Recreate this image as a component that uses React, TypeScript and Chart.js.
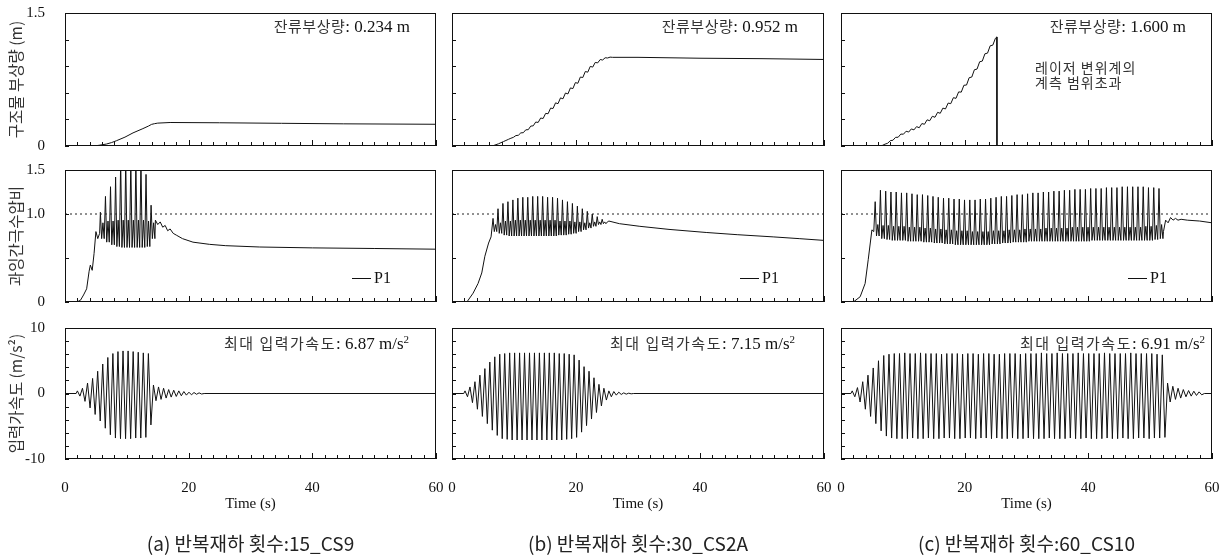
import React, { useEffect, useRef } from 'react';
import { Chart, registerables } from 'chart.js';

Chart.register(...registerables);

// ---------------- axis ticks and labels ----------------
const X_TICKS = [0, 2, 4, 6, 8, 10, 12, 14, 16, 18, 20, 22, 24, 26, 28, 30, 32, 34, 36, 38, 40, 42, 44, 46, 48, 50, 52, 54, 56, 58, 60];
const X_TICK_LABELS = [0, 20, 40, 60];
const UPLIFT_TICKS = [0, 0.3, 0.6, 0.9, 1.2, 1.5];
const UPLIFT_LABELED = [0, 1.5];
const UPLIFT_LABEL_TEXT = ['0', '1.5'];
const PP_TICKS = [0, 0.5, 1.0, 1.5];
const PP_LABELED = [0, 1.0, 1.5];
const PP_LABEL_TEXT = ['0', '1.0', '1.5'];
const ACC_TICKS = [-10, -8, -6, -4, -2, 0, 2, 4, 6, 8, 10];
const ACC_LABELED = [-10, 0, 10];
const ACC_LABEL_TEXT = ['-10', '0', '10'];

const Y_TITLES = ['구조물 부상량 (m)', '과잉간극수압비', '입력가속도 (m/s²)'];
const X_TITLE = 'Time (s)';
const CAPTIONS = ['(a) 반복재하 횟수:15_CS9', '(b) 반복재하 횟수:30_CS2A', '(c) 반복재하 횟수:60_CS10'];
const RESIDUAL_LABEL = '잔류부상량';
const RESIDUAL_UPLIFT = ['0.234', '0.952', '1.600'];
const MAX_ACC_LABEL = '최대 입력가속도';
const MAX_ACCEL = ['6.87', '7.15', '6.91'];
const LASER_NOTE = ['레이저 변위계의', '계측 범위초과'];
const LEGEND_LABEL = 'P1';
const DOTTED_T = [0, 60];
const DOTTED_V = [1.0, 1.0];

// ---------------- row 1 : uplift (m) ----------------
const UPLIFT_A_T = [0, 4.6, 5.5, 6.7, 7.5, 8.3, 9.7, 11.0, 12.6, 13.5, 14.0, 14.5, 15.0, 17.0, 25, 35, 45, 60];
const UPLIFT_A_V = [0, 0, 0.008, 0.022, 0.038, 0.059, 0.1, 0.148, 0.196, 0.225, 0.244, 0.252, 0.258, 0.265, 0.262, 0.256, 0.25, 0.245];

const UPLIFT_B_START = 1.9;
const UPLIFT_B_PERIOD = 0.8;
const UPLIFT_B_LEVEL = [0, 0, 0, 0, 0, 0, 0.005, 0.025, 0.05, 0.075, 0.1, 0.125, 0.155, 0.19, 0.235, 0.275, 0.32, 0.375, 0.435, 0.49, 0.545, 0.6, 0.66, 0.72, 0.785, 0.845, 0.9, 0.945, 0.975, 0.995];
const UPLIFT_B_WIGGLE = [0, 0, 0, 0, 0, 0, 0, 0, 0, 0, 0.005, 0.008, 0.01, 0.012, 0.015, 0.018, 0.02, 0.022, 0.024, 0.025, 0.025, 0.025, 0.025, 0.025, 0.025, 0.025, 0.02, 0.015, 0.01, 0.005];
const UPLIFT_B_TAIL_T = [25.9, 30, 40, 50, 60];
const UPLIFT_B_TAIL_V = [1.0, 1.0, 0.99, 0.985, 0.976];

const UPLIFT_C_START = 1.6;
const UPLIFT_C_PERIOD = 0.85;
const UPLIFT_C_LEVEL = [0, 0, 0, 0, 0, 0, 0.007, 0.035, 0.07, 0.105, 0.14, 0.165, 0.19, 0.215, 0.255, 0.295, 0.335, 0.38, 0.43, 0.49, 0.55, 0.62, 0.7, 0.79, 0.88, 0.97, 1.06, 1.15];
const UPLIFT_C_WIGGLE = [0, 0, 0, 0, 0, 0, 0, 0.008, 0.01, 0.012, 0.014, 0.015, 0.016, 0.018, 0.02, 0.02, 0.022, 0.022, 0.024, 0.025, 0.025, 0.025, 0.025, 0.025, 0.025, 0.025, 0.025, 0.025];
const UPLIFT_C_TAIL_T = [25.2, 25.22, 60];
const UPLIFT_C_TAIL_V = [1.23, 0, 0];

// ---------------- row 2 : excess pore pressure ratio ----------------
const PP_A_RISE_T = [0, 1.9, 2.5, 3.0, 3.5, 3.9, 4.1, 4.4, 4.7, 5.0, 5.3, 5.6];
const PP_A_RISE_V = [0, 0, 0.02, 0.08, 0.15, 0.35, 0.42, 0.36, 0.55, 0.8, 0.72, 0.78];
const PP_A_START = 5.6;
const PP_A_PERIOD = 0.82;
const PP_A_HIGH = [1.02, 1.2, 1.31, 1.42, 1.6, 1.6, 1.6, 1.6, 1.6, 1.45, 1.1];
const PP_A_LOW = [0.72, 0.68, 0.65, 0.63, 0.62, 0.62, 0.62, 0.62, 0.62, 0.63, 0.72];
const PP_A_MID = [0.9, 0.92, 0.92, 0.93, 0.93, 0.93, 0.93, 0.93, 0.93, 0.92, 0.9];
const PP_A_DECAY_T = [14.62, 15.0, 15.4, 15.8, 16.2, 16.6, 17.0, 17.5, 18.0, 19.0, 20.7, 23.4, 26.0, 31.5, 40, 50, 60];
const PP_A_DECAY_V = [0.93, 0.88, 0.91, 0.85, 0.87, 0.81, 0.83, 0.78, 0.76, 0.72, 0.68, 0.655, 0.64, 0.625, 0.615, 0.608, 0.6];

const PP_B_RISE_T = [0, 2.4, 3.4, 4.2, 4.8, 5.3, 5.9, 6.3];
const PP_B_RISE_V = [0, 0, 0.1, 0.21, 0.33, 0.52, 0.67, 0.74];
const PP_B_START = 6.5;
const PP_B_PERIOD = 0.8;
const PP_B_HIGH = [0.95, 1.06, 1.12, 1.14, 1.16, 1.18, 1.19, 1.19, 1.2, 1.2, 1.2, 1.19, 1.19, 1.18, 1.16, 1.14, 1.12, 1.09, 1.06, 1.03, 1.0, 0.97, 0.94];
const PP_B_LOW = [0.8, 0.78, 0.76, 0.75, 0.75, 0.75, 0.75, 0.75, 0.75, 0.75, 0.75, 0.75, 0.75, 0.76, 0.76, 0.77, 0.78, 0.8, 0.82, 0.84, 0.86, 0.88, 0.89];
const PP_B_MID = [0.88, 0.9, 0.92, 0.92, 0.93, 0.93, 0.93, 0.93, 0.93, 0.93, 0.93, 0.93, 0.93, 0.92, 0.92, 0.92, 0.91, 0.91, 0.9, 0.9, 0.91, 0.91, 0.91];
const PP_B_DECAY_T = [24.9, 25.3, 27, 30.3, 35, 41, 46, 51.8, 56, 60];
const PP_B_DECAY_V = [0.9, 0.92, 0.89, 0.86, 0.825, 0.79, 0.765, 0.74, 0.72, 0.7];

const PP_C_RISE_T = [0, 2.0, 3.1, 3.9, 4.4, 5.0, 5.3];
const PP_C_RISE_V = [0, 0, 0.06, 0.21, 0.48, 0.82, 0.8];
const PP_C_START = 5.4;
const PP_C_PERIOD = 0.85;
const PP_C_HIGH = [
  1.14, 1.27, 1.26, 1.25, 1.25, 1.24, 1.24, 1.23, 1.22, 1.22,
  1.21, 1.2, 1.19, 1.18, 1.18, 1.17, 1.17, 1.16, 1.16, 1.16,
  1.17, 1.17, 1.18, 1.19, 1.2, 1.2, 1.21, 1.22, 1.22, 1.23,
  1.24, 1.24, 1.25, 1.25, 1.26, 1.26, 1.27, 1.27, 1.28, 1.28,
  1.28, 1.29, 1.29, 1.29, 1.3, 1.3, 1.3, 1.31, 1.31, 1.31,
  1.31, 1.31, 1.3, 1.3, 1.29,
];
const PP_C_LOW = [
  0.75, 0.72, 0.71, 0.7, 0.7, 0.7, 0.69, 0.69, 0.69, 0.68,
  0.68, 0.67, 0.67, 0.66, 0.66, 0.65, 0.65, 0.65, 0.65, 0.65,
  0.65, 0.65, 0.66, 0.66, 0.67, 0.67, 0.68, 0.68, 0.68, 0.69,
  0.69, 0.69, 0.69, 0.69, 0.69, 0.69, 0.69, 0.69, 0.69, 0.69,
  0.69, 0.7, 0.7, 0.7, 0.7, 0.7, 0.7, 0.7, 0.7, 0.7,
  0.7, 0.7, 0.7, 0.71, 0.72,
];
const PP_C_MID = [
  0.88, 0.87, 0.87, 0.86, 0.86, 0.86, 0.85, 0.85, 0.85, 0.84,
  0.84, 0.83, 0.83, 0.82, 0.82, 0.81, 0.81, 0.81, 0.8, 0.8,
  0.8, 0.8, 0.81, 0.81, 0.81, 0.82, 0.82, 0.82, 0.83, 0.83,
  0.83, 0.83, 0.84, 0.84, 0.84, 0.84, 0.84, 0.85, 0.85, 0.85,
  0.85, 0.85, 0.85, 0.85, 0.85, 0.85, 0.85, 0.85, 0.85, 0.85,
  0.85, 0.86, 0.86, 0.87, 0.88,
];
const PP_C_DECAY_T = [52.15, 52.5, 52.9, 53.3, 53.7, 54.1, 54.5, 55, 56, 58, 60];
const PP_C_DECAY_V = [0.8, 0.93, 0.9, 0.96, 0.93, 0.95, 0.93, 0.94, 0.93, 0.92, 0.9];

// ---------------- row 3 : input acceleration (m/s2), peak per loading cycle ----------------
const ACC_A_START = 1.8;
const ACC_A_PERIOD = 0.82;
const ACC_A_POS = [0.4, 0.8, 1.6, 2.3, 3.4, 4.5, 5.5, 6.1, 6.4, 6.5, 6.5, 6.4, 6.3, 6.2, 6.1];
const ACC_A_NEG = [-0.4, -1.2, -2.2, -3.2, -4.2, -5.3, -6.3, -6.8, -6.9, -6.9, -6.9, -6.8, -6.8, -6.7, -4.8];
const ACC_A_RING = [1.3, -1.1, 1.0, -0.9, 0.8, -0.7, 0.6, -0.55, 0.5, -0.45, 0.4, -0.35, 0.3, -0.25, 0.2, -0.2, 0.15, -0.12, 0.1, -0.08];

const ACC_B_START = 1.9;
const ACC_B_PERIOD = 0.8;
const ACC_B_POS = [0.4, 1.0, 1.8, 2.8, 3.8, 4.8, 5.6, 6.0, 6.1, 6.2, 6.2, 6.2, 6.2, 6.2, 6.2, 6.2, 6.2, 6.2, 6.2, 6.1, 6.1, 6.0, 5.9, 5.1, 4.1, 3.4, 2.4, 1.4, 0.8, 0.4];
const ACC_B_NEG = [-0.5, -1.4, -2.4, -3.5, -4.6, -5.6, -6.4, -6.9, -7.0, -7.1, -7.1, -7.1, -7.1, -7.1, -7.1, -7.1, -7.1, -7.1, -7.1, -7.1, -7.0, -6.9, -6.7, -5.9, -4.9, -3.9, -2.9, -1.9, -1.0, -0.5];
const ACC_B_RING = [0.3, -0.25, 0.2, -0.15, 0.1, -0.1, 0.05, -0.05];

const ACC_C_START = 1.6;
const ACC_C_PERIOD = 0.85;
const ACC_C_POS = [
  0.4, 0.9, 1.8, 2.8, 3.9, 5.0, 5.8,
  6.0, 6.1, 6.1, 6.2, 6.1, 6.1, 6.2, 6.1, 6.1, 6.1,
  6.0, 6.1, 6.1, 6.1, 6.0, 6.1, 6.1, 6.0, 6.1, 6.1,
  6.0, 6.0, 6.1, 6.1, 6.1, 6.0, 6.1, 6.1, 6.1, 6.2,
  6.1, 6.1, 6.2, 6.1, 6.1, 6.1, 6.2, 6.1, 6.1, 6.1,
  6.1, 6.2, 6.1, 6.1, 6.1, 6.1, 6.2, 6.1, 6.1, 6.1,
  6.1, 6.0, 5.9,
];
const ACC_C_NEG = [
  -0.5, -1.3, -2.4, -3.5, -4.6, -5.7, -6.5,
  -6.8, -6.9, -6.9, -6.9, -6.8, -6.9, -6.9, -6.8, -6.9, -6.9,
  -6.8, -6.8, -6.9, -6.9, -6.8, -6.8, -6.9, -6.8, -6.8, -6.9,
  -6.8, -6.9, -6.9, -6.8, -6.9, -6.9, -6.8, -6.9, -6.9, -6.9,
  -6.8, -6.9, -6.9, -6.9, -6.8, -6.9, -6.9, -6.8, -6.9, -6.9,
  -6.9, -6.8, -6.9, -6.9, -6.8, -6.9, -6.9, -6.8, -6.8, -6.9,
  -6.8, -6.8, -6.7,
];
const ACC_C_RING = [1.6, -1.3, 1.1, -0.9, 0.8, -0.7, 0.6, -0.5, 0.45, -0.4, 0.35, -0.3, 0.25, -0.2];

// ---------------- builders ----------------
type P = { x: number; y: number };

function pairs(t: number[], v: number[]): P[] {
  return t.map((x, i) => ({ x, y: v[i] }));
}

function upliftSeries(start: number, period: number, level: number[], wig: number[], tailT: number[], tailV: number[]): P[] {
  const pts: P[] = [{ x: 0, y: 0 }];
  level.forEach((L, i) => {
    const t = start + i * period;
    const next = i + 1 < level.length ? level[i + 1] : tailV[0];
    pts.push({ x: t, y: L - wig[i] * 0.5 });
    pts.push({ x: t + period * 0.5, y: (L + next) / 2 + wig[i] });
  });
  return pts.concat(pairs(tailT, tailV));
}

function ppSeries(riseT: number[], riseV: number[], start: number, period: number, high: number[], low: number[], mid: number[], decT: number[], decV: number[]): P[] {
  const pts = pairs(riseT, riseV);
  high.forEach((h, i) => {
    const t = start + i * period;
    pts.push({ x: t + 0.15 * period, y: h });
    pts.push({ x: t + 0.4 * period, y: low[i] });
    pts.push({ x: t + 0.65 * period, y: mid[i] });
    pts.push({ x: t + 0.9 * period, y: low[i] });
  });
  return pts.concat(pairs(decT, decV));
}

function accSeries(start: number, period: number, pos: number[], neg: number[], ring: number[]): P[] {
  const pts: P[] = [{ x: 0, y: 0 }, { x: start, y: 0 }];
  pos.forEach((p, i) => {
    const t = start + i * period;
    pts.push({ x: t + 0.25 * period, y: p });
    pts.push({ x: t + 0.75 * period, y: neg[i] });
  });
  const tEnd = start + pos.length * period;
  ring.forEach((r, k) => pts.push({ x: tEnd + (k + 0.5) * period * 0.5, y: r }));
  pts.push({ x: tEnd + (ring.length + 0.5) * period * 0.5, y: 0 });
  pts.push({ x: 60, y: 0 });
  return pts;
}

// ---------------- layout ----------------
const COLS = [
  { l: 65, r: 436 },
  { l: 452, r: 824 },
  { l: 841, r: 1212 },
];
const ROWS = [
  { t: 13, b: 146 },
  { t: 170, b: 302 },
  { t: 328, b: 459 },
];
const PAD_L = 60;
const PAD_T = 26;
const PAD_R = 28;
const SERIF = '"Liberation Serif", "Times New Roman", serif';
const SANS = '"Noto Sans CJK KR", "Noto Sans", sans-serif';
const INK = '#111';

const framePlugin = {
  id: 'frameTicks',
  afterDatasetsDraw(chart: any) {
    const { ctx, chartArea, scales } = chart;
    const { left, top, right, bottom } = chartArea;
    ctx.save();
    ctx.strokeStyle = INK;
    ctx.lineWidth = 1;
    ctx.strokeRect(left + 0.5, top + 0.5, right - left - 1, bottom - top - 1);
    ctx.beginPath();
    scales.x.ticks.forEach((tk: any) => {
      const px = Math.round(scales.x.getPixelForValue(tk.value)) + 0.5;
      const len = tk.value % 20 === 0 ? 6 : 4;
      ctx.moveTo(px, bottom);
      ctx.lineTo(px, bottom - len);
    });
    scales.y.ticks.forEach((tk: any) => {
      const py = Math.round(scales.y.getPixelForValue(tk.value)) + 0.5;
      ctx.moveTo(left, py);
      ctx.lineTo(left + 4, py);
    });
    ctx.stroke();
    ctx.restore();
  },
};

interface PanelProps {
  row: number;
  col: number;
  datasets: any[];
  yMin: number;
  yMax: number;
  yTicks: number[];
  yLabeled: number[];
  yLabelText: string[];
}

function Panel({ row, col, datasets, yMin, yMax, yTicks, yLabeled, yLabelText }: PanelProps) {
  const ref = useRef<HTMLCanvasElement | null>(null);
  const plotW = COLS[col].r - COLS[col].l;
  const plotH = ROWS[row].b - ROWS[row].t;
  const padB = row === 2 ? 55 : 26;
  const width = plotW + PAD_L + PAD_R;
  const height = plotH + PAD_T + padB;

  useEffect(() => {
    if (!ref.current) return;
    const chart = new Chart(ref.current, {
      type: 'line',
      data: { datasets },
      options: {
        responsive: false,
        maintainAspectRatio: false,
        animation: false,
        devicePixelRatio: 1,
        layout: { padding: { top: PAD_T, right: PAD_R, left: 0, bottom: 0 } },
        plugins: { legend: { display: false }, tooltip: { enabled: false } },
        elements: { point: { radius: 0 }, line: { tension: 0 } },
        scales: {
          x: {
            type: 'linear',
            min: 0,
            max: 60,
            grid: { display: false },
            border: { display: false },
            afterBuildTicks: (s: any) => {
              s.ticks = X_TICKS.map((v) => ({ value: v }));
            },
            afterFit: (s: any) => {
              s.height = padB;
            },
            ticks: {
              display: row === 2,
              autoSkip: false,
              maxRotation: 0,
              minRotation: 0,
              padding: 12,
              color: INK,
              font: { family: SERIF, size: 15 },
              callback: (v: any) => (X_TICK_LABELS.includes(Number(v)) ? String(v) : ''),
            },
            title: {
              display: row === 2,
              text: X_TITLE,
              color: INK,
              font: { family: SERIF, size: 15 },
              padding: { top: 0, bottom: 1 },
            },
          },
          y: {
            type: 'linear',
            min: yMin,
            max: yMax,
            grid: { display: false },
            border: { display: false },
            afterBuildTicks: (s: any) => {
              s.ticks = yTicks.map((v) => ({ value: v }));
            },
            afterFit: (s: any) => {
              s.width = PAD_L;
            },
            ticks: {
              display: col === 0,
              autoSkip: false,
              padding: 12,
              color: INK,
              font: { family: SERIF, size: 15 },
              callback: (v: any) => {
                const k = yLabeled.findIndex((l) => Math.abs(l - Number(v)) < 1e-9);
                return k >= 0 ? yLabelText[k] : '';
              },
            },
            title: {
              display: col === 0,
              text: Y_TITLES[row],
              color: '#333',
              font: { family: SANS, size: 15.5 },
              padding: { top: 2, bottom: 0 },
            },
          },
        },
      } as any,
      plugins: [framePlugin],
    });
    return () => chart.destroy();
  }, []);

  return (
    <canvas
      ref={ref}
      width={width}
      height={height}
      style={{
        position: 'absolute',
        left: COLS[col].l - PAD_L,
        top: ROWS[row].t - PAD_T,
        width,
        height,
      }}
    />
  );
}

function lineDs(data: P[]) {
  return {
    data,
    borderColor: INK,
    borderWidth: 1,
    pointRadius: 0,
    fill: false,
    tension: 0,
  };
}

function dottedDs() {
  return {
    data: pairs(DOTTED_T, DOTTED_V),
    borderColor: '#222',
    borderWidth: 1,
    borderDash: [2, 3],
    pointRadius: 0,
    fill: false,
  };
}

export default function App() {
  const uplift = [
    pairs(UPLIFT_A_T, UPLIFT_A_V),
    upliftSeries(UPLIFT_B_START, UPLIFT_B_PERIOD, UPLIFT_B_LEVEL, UPLIFT_B_WIGGLE, UPLIFT_B_TAIL_T, UPLIFT_B_TAIL_V),
    upliftSeries(UPLIFT_C_START, UPLIFT_C_PERIOD, UPLIFT_C_LEVEL, UPLIFT_C_WIGGLE, UPLIFT_C_TAIL_T, UPLIFT_C_TAIL_V),
  ];
  const pp = [
    ppSeries(PP_A_RISE_T, PP_A_RISE_V, PP_A_START, PP_A_PERIOD, PP_A_HIGH, PP_A_LOW, PP_A_MID, PP_A_DECAY_T, PP_A_DECAY_V),
    ppSeries(PP_B_RISE_T, PP_B_RISE_V, PP_B_START, PP_B_PERIOD, PP_B_HIGH, PP_B_LOW, PP_B_MID, PP_B_DECAY_T, PP_B_DECAY_V),
    ppSeries(PP_C_RISE_T, PP_C_RISE_V, PP_C_START, PP_C_PERIOD, PP_C_HIGH, PP_C_LOW, PP_C_MID, PP_C_DECAY_T, PP_C_DECAY_V),
  ];
  const acc = [
    accSeries(ACC_A_START, ACC_A_PERIOD, ACC_A_POS, ACC_A_NEG, ACC_A_RING),
    accSeries(ACC_B_START, ACC_B_PERIOD, ACC_B_POS, ACC_B_NEG, ACC_B_RING),
    accSeries(ACC_C_START, ACC_C_PERIOD, ACC_C_POS, ACC_C_NEG, ACC_C_RING),
  ];
  const accInset = [27, 29, 7];

  return (
    <div style={{ position: 'absolute', left: 0, top: 0, width: 1226, height: 560, overflow: 'hidden', background: '#fff' }}>
      {[0, 1, 2].map((c) => (
        <React.Fragment key={c}>
          <Panel row={0} col={c} datasets={[lineDs(uplift[c])]} yMin={0} yMax={1.5} yTicks={UPLIFT_TICKS} yLabeled={UPLIFT_LABELED} yLabelText={UPLIFT_LABEL_TEXT} />
          <Panel row={1} col={c} datasets={[dottedDs(), lineDs(pp[c])]} yMin={0} yMax={1.5} yTicks={PP_TICKS} yLabeled={PP_LABELED} yLabelText={PP_LABEL_TEXT} />
          <Panel row={2} col={c} datasets={[lineDs(acc[c])]} yMin={-10} yMax={10} yTicks={ACC_TICKS} yLabeled={ACC_LABELED} yLabelText={ACC_LABEL_TEXT} />

          {/* residual uplift annotation */}
          <div style={{ position: 'absolute', right: 1226 - (COLS[c].r - 26), top: 16, height: 20, lineHeight: '20px', whiteSpace: 'nowrap', color: INK }}>
            <span style={{ fontFamily: SANS, fontSize: 15, letterSpacing: 0.5, color: '#333' }}>{RESIDUAL_LABEL}</span>
            <span style={{ fontFamily: SERIF, fontSize: 17 }}>: {RESIDUAL_UPLIFT[c]} m</span>
          </div>

          {/* max acceleration annotation */}
          <div style={{ position: 'absolute', right: 1226 - (COLS[c].r - accInset[c]), top: 333, height: 20, lineHeight: '20px', whiteSpace: 'nowrap', color: INK }}>
            <span style={{ fontFamily: SANS, fontSize: 15, letterSpacing: 1.5, color: '#333' }}>{MAX_ACC_LABEL}</span>
            <span style={{ fontFamily: SERIF, fontSize: 17 }}>: {MAX_ACCEL[c]} m/s</span>
            <sup style={{ fontFamily: SERIF, fontSize: 11, lineHeight: 0 }}>2</sup>
          </div>

          {/* legend */}
          <div style={{ position: 'absolute', left: COLS[c].r - 84, top: 268, height: 20, display: 'flex', alignItems: 'center', whiteSpace: 'nowrap' }}>
            <span style={{ display: 'inline-block', width: 19, height: 0, borderTop: `1px solid ${INK}`, marginRight: 3 }} />
            <span style={{ fontFamily: SERIF, fontSize: 16, color: INK }}>{LEGEND_LABEL}</span>
          </div>

          {/* caption */}
          <div style={{ position: 'absolute', left: (COLS[c].l + COLS[c].r) / 2 - 200, width: 400, top: 529, lineHeight: '28px', textAlign: 'center', fontFamily: SANS, fontSize: 19, color: '#222', whiteSpace: 'nowrap' }}>
            {CAPTIONS[c]}
          </div>
        </React.Fragment>
      ))}

      {/* laser note in panel (c) */}
      <div style={{ position: 'absolute', left: 1035, top: 60, fontFamily: SANS, fontSize: 14, letterSpacing: 1, lineHeight: '15px', color: '#333', whiteSpace: 'nowrap' }}>
        <div>{LASER_NOTE[0]}</div>
        <div>{LASER_NOTE[1]}</div>
      </div>
    </div>
  );
}
